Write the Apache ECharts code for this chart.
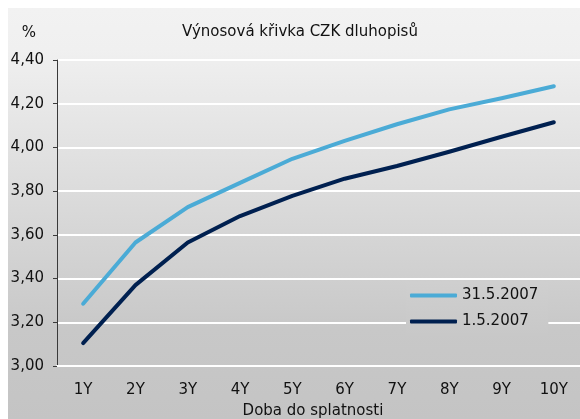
<!DOCTYPE html>
<html>
<head>
<meta charset="utf-8">
<script src="https://cdn.jsdelivr.net/npm/echarts@6/dist/echarts.min.js"></script>
<style>
  html, body { margin: 0; padding: 0; background: #fff; }
  #chart { width: 580px; height: 419px; }
</style>
</head>
<body>
<div id="chart"></div>
<script>
const categories = ["1Y", "2Y", "3Y", "4Y", "5Y", "6Y", "7Y", "8Y", "9Y", "10Y"];
const may31 = [3.285, 3.565, 3.727, 3.838, 3.948, 4.030, 4.106, 4.174, 4.225, 4.280];
const may1 = [3.105, 3.370, 3.565, 3.686, 3.778, 3.857, 3.915, 3.980, 4.049, 4.115];
const seriesNames = ["31.5.2007", "1.5.2007"];
const titleText = "Výnosová křivka CZK dluhopisů";
const xAxisName = "Doba do splatnosti";
const yUnit = "%";

const font = "'DejaVu Sans', Verdana, sans-serif";
const chart = echarts.init(document.getElementById("chart"));

function label(text, x, y) {
  return {
    type: "text", x: x, y: y,
    style: { text: text, font: "15px " + font, fill: "#111", align: "center", verticalAlign: "middle" }
  };
}

chart.setOption({
  animation: false,
  textStyle: { fontFamily: font },
  graphic: [
    {
      type: "rect", z: -10, silent: true,
      shape: { x: 8, y: 8, width: 572, height: 411 },
      style: {
        fill: new echarts.graphic.LinearGradient(0, 0, 0, 1, [
          { offset: 0, color: "#f2f2f2" },
          { offset: 0.1, color: "#f0f0f0" },
          { offset: 0.78, color: "#c8c8c8" },
          { offset: 1, color: "#c4c4c4" }
        ])
      }
    },
    label(titleText, 300, 32),
    label(yUnit, 29, 33),
    label(xAxisName, 313, 411)
  ],
  grid: { left: 57, top: 60, width: 524, height: 306 },
  legend: {
    orient: "vertical",
    left: 406,
    top: 282,
    padding: [6, 10, 6, 4],
    itemGap: 11,
    itemWidth: 47,
    itemHeight: 4,
    icon: "roundRect",
    backgroundColor: new echarts.graphic.LinearGradient(0, 0, 0, 1, [
      { offset: 0, color: "#cfcfcf" },
      { offset: 1, color: "#c8c8c8" }
    ]),
    textStyle: { fontSize: 15, color: "#111", fontFamily: font },
    data: seriesNames
  },
  xAxis: {
    type: "category",
    data: categories,
    boundaryGap: true,
    axisLine: { lineStyle: { color: "#ffffff", width: 2 } },
    axisTick: { inside: true, length: 5, lineStyle: { color: "#ffffff", width: 2 } },
    axisLabel: { fontSize: 15, color: "#111", margin: 17, fontFamily: font },
    splitLine: { show: false }
  },
  yAxis: {
    type: "value",
    min: 3,
    max: 4.4,
    interval: 0.2,
    axisLine: { show: true, lineStyle: { color: "#3a3a3a", width: 1 } },
    axisTick: { show: true, length: 4, lineStyle: { color: "#3a3a3a" } },
    axisLabel: {
      fontSize: 15, color: "#111", margin: 13, fontFamily: font,
      formatter: v => v.toFixed(2).replace(".", ",")
    },
    splitLine: { lineStyle: { color: "#ffffff", width: 2 } }
  },
  series: [
    {
      name: seriesNames[0], type: "line", data: may31,
      showSymbol: false, symbol: "none",
      lineStyle: { color: "#4babd6", width: 4, cap: "round", join: "round" },
      itemStyle: { color: "#4babd6" }
    },
    {
      name: seriesNames[1], type: "line", data: may1,
      showSymbol: false, symbol: "none",
      lineStyle: { color: "#002050", width: 4, cap: "round", join: "round" },
      itemStyle: { color: "#002050" }
    }
  ]
});
</script>
</body>
</html>
